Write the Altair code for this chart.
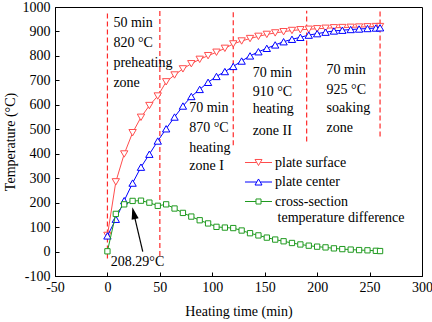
import altair as alt
import pandas as pd

# ---------------- data ----------------
time = [0, 8, 16, 24, 32, 40, 48, 56, 64, 72, 80, 88, 96, 104, 112, 120, 128,
        136, 144, 152, 160, 168, 176, 184, 192, 200, 208, 216, 224, 232, 240,
        248, 256, 260]
surface = [66, 285, 399, 486, 549, 597, 636, 694, 722, 747, 768, 786, 801, 815,
           831, 849, 861, 871, 880, 888, 894, 899, 904, 907, 909, 911, 913, 915,
           916, 917, 918, 919, 920, 920]
center = [64, 132, 208, 280, 345, 398, 452, 502, 550, 595, 634, 663, 692, 716,
          736, 757, 779, 800, 817, 831, 845, 858, 868, 876, 885, 891, 897, 902,
          905, 908, 910, 912, 914, 915]
diff = [1, 154, 193, 207, 208, 200, 187, 193, 176, 158, 143, 128, 115, 101, 98,
        96, 86, 75, 66, 57, 49, 42, 35, 29, 24, 20, 17, 13, 10, 8, 6, 5, 3, 2]

series_names = ["plate surface", "plate center",
                "cross-section temperature difference"]
series_colors = ["#ff4d4d", "#0000ff", "#1f9a1f"]
series_shapes = ["triangle-down", "triangle-up", "square"]
series_sizes = [54, 54, 28]

# zone boundaries (dashed lines)
zone_x = [0, 50, 120, 190, 260]
zone_top = [985, 985, 985, 985, 985]
zone_bottom = [-28, -18, 435, 450, 470]

# zone annotations: left x (min), y (degC) of each text line
note_text = ["50 min", "820 °C", "preheating", "zone",
             "70 min", "870 °C", "heating", "zone I",
             "70 min", "910 °C", "heating", "zone II",
             "70 min", "925 °C", "soaking", "zone",
             "208.29°C", "temperature difference"]
note_x = [5.7, 5.7, 5.7, 5.7,
          78, 78, 78, 78,
          138.5, 138.5, 138.5, 138.5,
          209, 209, 209, 209,
          3.2, 162.3]
note_y = [936, 851, 770, 690,
          587, 505, 425, 348,
          729, 651, 582, 494,
          742, 660, 586, 504,
          -43, 137]

# arrow pointing at the peak temperature difference
arrow_tail = (33.7, 0)
arrow_end = (25.5, 149)
arrow_tip = (23.8, 181)

# ---------------- tables ----------------
rows = []
for name, vals in zip(series_names, [surface, center, diff]):
    for t, v in zip(time, vals):
        rows.append({"time": t, "temp": v, "series": name})
df = pd.DataFrame(rows)

zones = pd.DataFrame({"x": zone_x, "y1": zone_bottom, "y2": zone_top})
notes = pd.DataFrame({"x": note_x, "y": note_y, "text": note_text})
arrow_line = pd.DataFrame({"x": [arrow_tail[0]], "y": [arrow_tail[1]],
                           "x2": [arrow_end[0]], "y2": [arrow_end[1]]})
arrow_head = pd.DataFrame({"x": [arrow_tip[0]], "y": [arrow_tip[1]]})

FONT = "Liberation Serif"
MINUS_FIX = "replace(datum.label, '\u2212', '-')"

xscale = alt.Scale(domain=[-50, 300], nice=False, zero=False)
yscale = alt.Scale(domain=[-100, 1000], nice=False, zero=False)

common_axis = dict(grid=False, tickSize={"expr": "-4"}, labelFlush=False,
                   labelOverlap=False, labelExpr=MINUS_FIX, format="d",
                   labelFont=FONT, titleFont=FONT, labelFontSize=14,
                   titleFontSize=14, titleFontWeight="normal",
                   labelColor="black", titleColor="black")
x_axis = alt.Axis(title="Heating time (min)", values=list(range(-50, 301, 50)),
                  labelPadding=8, titlePadding=10, **common_axis)
y_axis = alt.Axis(title="Temperature (°C)", values=list(range(-100, 1001, 100)),
                  labelPadding=9, titlePadding=5, **common_axis)


def X(field):
    return alt.X(field, type="quantitative", scale=xscale, axis=x_axis)


def Y(field):
    return alt.Y(field, type="quantitative", scale=yscale, axis=y_axis)


layers = []

zone_rules = alt.Chart(zones).mark_rule(color="#ff2a2a", strokeWidth=1.2,
                                        strokeDash=[5, 3]).encode(
    x=X("x"), y=Y("y1"), y2="y2:Q")
layers.append(zone_rules)

for name, col, shp, sz in zip(series_names, series_colors, series_shapes, series_sizes):
    sub = alt.Chart(df).transform_filter(alt.datum.series == name)
    layers.append(sub.mark_line(color=col, strokeWidth=1).encode(
        x=X("time"), y=Y("temp"), order="time:Q"))
    layers.append(sub.mark_point(shape=shp, size=sz, filled=True, opacity=1,
                                 strokeWidth=1, fill="white", stroke=col).encode(
        x=X("time"), y=Y("temp")))

# legend symbols: a short line with the marker in the middle
legend_paths = [
    "M-1.93,0L-0.27,0M0.27,0L1.93,0M-0.5,-0.433L0.5,-0.433L0,0.433Z",
    "M-1.93,0L-0.27,0M0.27,0L1.93,0M-0.5,0.433L0.5,0.433L0,-0.433Z",
    "M-1.93,0L-0.36,0M0.36,0L1.93,0M-0.36,-0.36L0.36,-0.36L0.36,0.36L-0.36,0.36Z",
]
legend = alt.Legend(title=None, orient="none", legendX=196, legendY=148,
                    padding=0, symbolSize=196, symbolStrokeWidth=1,
                    labelFont=FONT, labelFontSize=14, labelColor="black",
                    labelOffset=9, rowPadding=4.5,
                    labelExpr="datum.label == 'cross-section temperature difference' ? 'cross-section' : datum.label")
legend_layer = alt.Chart(df).transform_filter("datum.time < -1000").mark_point(
    filled=False, opacity=1, strokeWidth=1).encode(
    x=X("time"), y=Y("temp"),
    color=alt.Color("series:N", scale=alt.Scale(domain=series_names, range=series_colors),
                    legend=legend),
    shape=alt.Shape("series:N", scale=alt.Scale(domain=series_names, range=legend_paths),
                    legend=legend),
)
layers.append(legend_layer)

texts = alt.Chart(notes).mark_text(align="left", baseline="middle", font=FONT,
                                   fontSize=14, color="black").encode(
    x=X("x"), y=Y("y"), text="text:N")
layers.append(texts)

arrow_rule = alt.Chart(arrow_line).mark_rule(color="black", strokeWidth=1.2).encode(
    x=X("x"), y=Y("y"), x2="x2:Q", y2="y2:Q")
arrow_pt = alt.Chart(arrow_head).mark_point(
    shape="M0,0L-0.6,2L0.6,2Z", size=144, angle=346.8, filled=True,
    opacity=1, color="black", strokeWidth=0).encode(x=X("x"), y=Y("y"))
layers += [arrow_rule, arrow_pt]

chart = alt.layer(*layers).properties(
    width=367, height=269,
    autosize=alt.AutoSizeParams(type="none"),
    padding={"left": 55, "top": 7, "right": 10, "bottom": 46},
).configure_view(stroke="black", strokeWidth=1).configure_axis(
    domainColor="black", tickColor="black", labelColor="black", titleColor="black",
    labelFont=FONT, titleFont=FONT, labelFontSize=14, titleFontSize=14,
    titleFontWeight="normal", domainWidth=1, tickWidth=1,
)

chart.save("out.html", embed_options={"renderer": "svg", "actions": False})
